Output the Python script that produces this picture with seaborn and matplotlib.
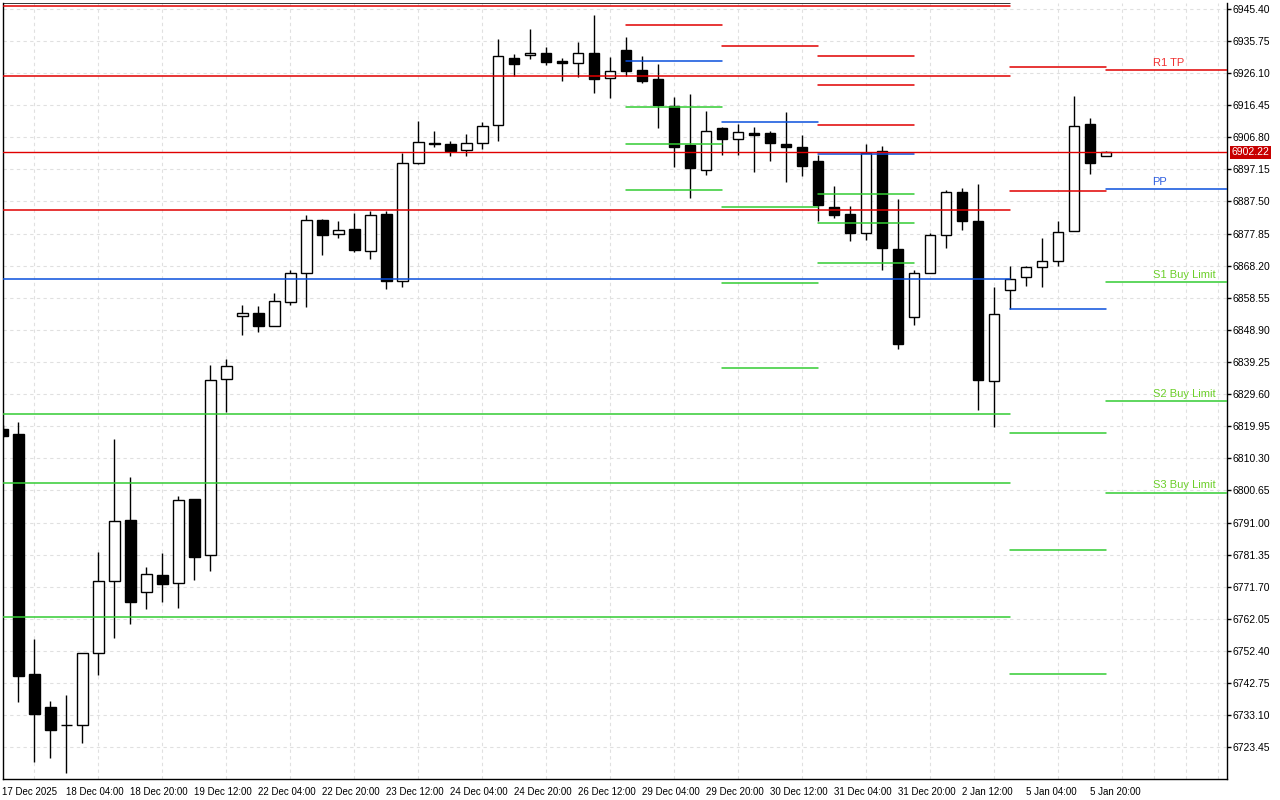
import numpy as np
import pandas as pd
import seaborn as sns
import matplotlib.pyplot as plt
import matplotlib.transforms as mtransforms

# H4 candles (index 0 = leftmost bar)
opens = [6819.25, 6817.54, 6745.46, 6735.55, 6730.10, 6730.05, 6751.68, 6773.30, 6791.71, 6770.00,
         6775.19, 6772.70, 6798.02, 6781.11, 6834.27, 6853.19, 6854.09, 6850.19, 6857.40, 6866.11,
         6881.81, 6877.82, 6879.11, 6872.71, 6883.62, 6863.58, 6899.14, 6904.85, 6904.85, 6903.05,
         6905.15, 6910.56, 6930.77, 6931.58, 6932.18, 6929.78, 6929.18, 6932.18, 6924.67, 6933.17,
         6926.87, 6924.16, 6916.26, 6904.34, 6897.04, 6909.45, 6906.35, 6908.15, 6907.94, 6904.85,
         6903.74, 6899.53, 6885.93, 6883.62, 6878.12, 6902.54, 6873.32, 6852.89, 6866.11, 6877.52,
         6890.43, 6881.51, 6833.67, 6861.00, 6864.70, 6867.91, 6869.71, 6878.72, 6910.65, 6901.25]
highs = [6820.25, 6821.15, 6755.97, 6737.35, 6739.15, 6751.68, 6782.10, 6816.04, 6804.84, 6777.69,
         6781.80, 6799.13, 6798.23, 6838.27, 6840.07, 6856.29, 6855.99, 6860.10, 6866.80, 6883.32,
         6882.12, 6881.51, 6883.92, 6884.52, 6884.52, 6901.94, 6911.55, 6908.54, 6905.54, 6907.64,
         6911.25, 6936.48, 6931.88, 6939.48, 6934.07, 6930.47, 6935.28, 6943.69, 6931.07, 6937.08,
         6931.37, 6928.67, 6918.76, 6919.66, 6914.55, 6909.75, 6910.65, 6909.75, 6908.64, 6914.25,
         6907.34, 6901.34, 6892.03, 6886.02, 6904.64, 6904.25, 6888.33, 6866.80, 6877.91, 6891.04,
         6891.64, 6892.72, 6861.69, 6868.09, 6868.09, 6876.41, 6881.51, 6919.06, 6912.45, 6902.54]
lows = [6816.65, 6737.14, 6719.12, 6720.32, 6715.64, 6724.83, 6745.25, 6756.36, 6760.57, 6764.98,
        6767.17, 6765.37, 6773.69, 6776.40, 6824.24, 6847.37, 6848.27, 6850.07, 6856.38, 6855.78,
        6871.30, 6876.50, 6872.29, 6870.19, 6861.18, 6861.78, 6898.84, 6903.83, 6901.13, 6901.13,
        6903.14, 6905.63, 6925.36, 6930.26, 6928.37, 6923.65, 6924.85, 6920.05, 6918.55, 6925.36,
        6923.05, 6909.54, 6897.82, 6888.51, 6895.42, 6901.43, 6901.43, 6896.32, 6899.62, 6893.32,
        6895.12, 6881.51, 6882.51, 6875.60, 6875.90, 6867.01, 6843.16, 6850.37, 6865.90, 6873.50,
        6878.81, 6824.96, 6819.73, 6855.29, 6862.08, 6861.78, 6868.09, 6878.51, 6895.72, 6901.25]
closes = [6817.03, 6744.86, 6733.54, 6728.73, 6730.20, 6751.68, 6773.30, 6791.32, 6767.17, 6775.40,
          6772.58, 6797.93, 6780.69, 6833.97, 6838.18, 6854.09, 6850.07, 6857.70, 6866.11, 6882.02,
          6877.40, 6879.02, 6872.89, 6883.53, 6863.58, 6899.14, 6905.45, 6904.95, 6902.63, 6905.15,
          6910.26, 6931.28, 6928.76, 6932.18, 6929.36, 6929.06, 6932.18, 6924.25, 6926.78, 6926.66,
          6923.65, 6916.44, 6903.83, 6897.52, 6908.76, 6906.23, 6908.46, 6907.43, 6905.03, 6903.83,
          6898.12, 6886.41, 6883.53, 6878.00, 6902.15, 6873.50, 6844.66, 6866.11, 6877.52, 6890.43,
          6881.60, 6833.97, 6853.58, 6864.30, 6867.91, 6869.71, 6878.42, 6910.26, 6899.02, 6902.22]

bid = 6902.22

x_tick_labels = ['17 Dec 2025', '18 Dec 04:00', '18 Dec 20:00', '19 Dec 12:00', '22 Dec 04:00',
                 '22 Dec 20:00', '23 Dec 12:00', '24 Dec 04:00', '24 Dec 20:00', '26 Dec 12:00',
                 '29 Dec 04:00', '29 Dec 20:00', '30 Dec 12:00', '31 Dec 04:00', '31 Dec 20:00',
                 '2 Jan 12:00', '5 Jan 04:00', '5 Jan 20:00']
y_tick_values = [6723.45, 6733.10, 6742.75, 6752.40, 6762.05, 6771.70, 6781.35, 6791.00,
                 6800.65, 6810.30, 6819.95, 6829.60, 6839.25, 6848.90, 6858.55, 6868.20,
                 6877.85, 6887.50, 6897.15, 6906.80, 6916.45, 6926.10, 6935.75, 6945.40]

# pivot levels: (first bar, last bar, resistances, pivot, supports)
seg_start = [-1, 39, 45, 51, 63, 69]
seg_end = [63, 45, 51, 57, 69, 77]
seg_r = [[6946.18, 6925.27, 6885.03], [6940.59], [6934.28],
         [6931.28, 6922.57, 6910.56], [6927.98, 6890.73], [6927.08]]
seg_pp = [6864.30, 6929.78, 6911.46, 6901.85, 6855.29, 6891.34]
seg_s = [[6823.76, 6803.04, 6762.67], [6915.96, 6904.85, 6891.04], [6885.93, 6863.10, 6837.57],
         [6889.83, 6881.12, 6869.11], [6818.05, 6782.61, 6745.37], [6863.40, 6827.54, 6800.03]]
top_line = 6947.05

label_names = ['R1 TP', 'PP', 'S1 Buy Limit', 'S2 Buy Limit', 'S3 Buy Limit']
label_values = [6927.08, 6891.34, 6863.40, 6827.54, 6800.03]

RED = '#E00000'
BLUE = '#0A50DC'
GREEN = '#33CC33'

sns.set_style('white')
plt.rcParams['font.family'] = ['Liberation Sans', 'DejaVu Sans']

fig = plt.figure(figsize=(12.8, 8), dpi=100)
ax = fig.add_axes([2.5 / 1280, 21 / 800, 1224.5 / 1280, 776.5 / 800])

n = len(opens)
idx = np.arange(n)
o = np.array(opens); c = np.array(closes)
up = c >= o
bottoms = np.minimum(o, c)
heights = np.maximum(np.abs(c - o), 0.12)

ax.vlines(idx, lows, highs, color='black', linewidth=1.0, zorder=2)
ax.bar(idx, heights, bottom=bottoms, width=0.64,
       color=np.where(up, 'white', 'black'), edgecolor='black', linewidth=1.0, zorder=3)

# levels as long table -> seaborn lineplot
rows = []
uid = 0
for k in range(len(seg_start)):
    lv = [('R', v) for v in seg_r[k]] + [('PP', seg_pp[k])] + [('S', v) for v in seg_s[k]]
    if k == 0:
        lv.append(('top', top_line))
    for kind, v in lv:
        rows.append((uid, kind, seg_start[k], v))
        rows.append((uid, kind, seg_end[k], v))
        uid += 1
levels = pd.DataFrame(rows, columns=['uid', 'kind', 'x', 'price'])
sns.lineplot(data=levels, x='x', y='price', hue='kind', units='uid', estimator=None,
             palette={'R': RED, 'PP': BLUE, 'S': GREEN, 'top': 'black'},
             linewidth=1.1, legend=False, sort=False, ax=ax, zorder=4)

ax.axhline(bid, color=RED, linewidth=1.0, zorder=4)

label_colors = ['#F03232', '#2E5FE0', '#6CCF2A', '#6CCF2A', '#6CCF2A']
for name, v, col in zip(label_names, label_values, label_colors):
    ax.annotate(name, (71.9, v), xytext=(0, 1.5), textcoords='offset points',
                ha='left', va='bottom', color=col, fontsize=8, zorder=5)

trans = mtransforms.blended_transform_factory(ax.transAxes, ax.transData)
ax.text(1.0035, bid, f'{bid:.2f}', transform=trans, color='white', fontsize=7.5,
        ha='left', va='center', clip_on=False,
        bbox=dict(facecolor='#C80000', edgecolor='none', pad=1.2))

ax.set_xlim(0, 76.55)
ax.set_ylim(6713.93, 6947.3)

ax.set_xticks(np.arange(0, 69, 4))
ax.set_xticklabels(x_tick_labels)
for lbl in ax.get_xticklabels():
    lbl.set_ha('left')
ax.set_xticks(np.arange(0, 77, 2), minor=True)
ax.yaxis.tick_right()
ax.set_yticks(y_tick_values)
ax.set_yticklabels([f'{v:.2f}' for v in y_tick_values])
ax.set_xlabel('')
ax.set_ylabel('')

ax.tick_params(axis='x', which='major', direction='out', length=4, width=1, pad=1.5,
               labelsize=7, colors='black')
ax.tick_params(axis='x', which='minor', length=0)
ax.tick_params(axis='y', which='major', direction='out', length=3, width=1, pad=1,
               labelsize=7.5, colors='black', left=False, right=True)

ax.grid(False)
ax.grid(True, which='minor', axis='x', color='#E0E0E0', linestyle=(0, (3, 3)), linewidth=0.8)
ax.grid(True, which='major', axis='y', color='#E0E0E0', linestyle=(0, (3, 3)), linewidth=0.8)
ax.set_axisbelow(True)

ax.spines['top'].set_visible(False)
for s in ['left', 'right', 'bottom']:
    ax.spines[s].set_color('black')
    ax.spines[s].set_linewidth(1.0)

fig.savefig('out.png', dpi=100, facecolor='white')
